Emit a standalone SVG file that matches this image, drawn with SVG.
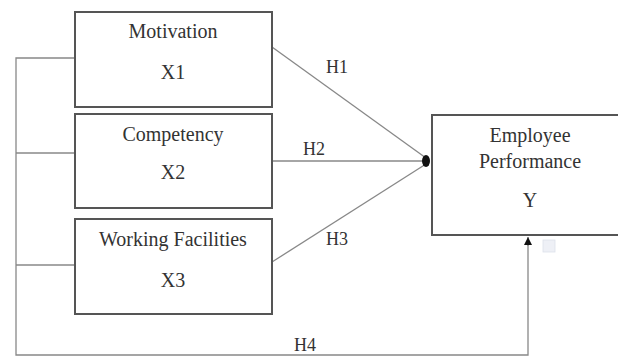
<svg xmlns="http://www.w3.org/2000/svg" width="618" height="358" viewBox="0 0 618 358">
<defs>
<style>
.box{fill:#fff;stroke:#555;stroke-width:2}
.ln{stroke:#888;stroke-width:1.3;fill:none}
text{font-family:"Liberation Serif","Times New Roman",serif;font-size:20px;fill:#333;text-anchor:middle}
.h{font-size:18px}
</style>
<marker id="arr" markerWidth="8" markerHeight="8" refX="8" refY="4" orient="auto" markerUnits="userSpaceOnUse" viewBox="0 0 8 8"><path d="M0,0 L8,4 L0,8 Z" fill="#111"/></marker>
</defs>
<rect width="618" height="358" fill="#fff"/>
<g id="connectors">
<path class="ln" d="M75,58 H16 V355 H528 V245"/>
<path class="ln" d="M75,153 H16"/>
<path class="ln" d="M75,265 H16"/>
<line class="ln" x1="528" y1="246" x2="528" y2="237" marker-end="url(#arr)"/>
<line class="ln" x1="272" y1="47" x2="426" y2="158"/>
<line class="ln" x1="272" y1="161" x2="426" y2="161"/>
<line class="ln" x1="272" y1="262" x2="426" y2="164"/>
<ellipse cx="426" cy="161" rx="4" ry="6" fill="#111"/>
<text class="h" x="337" y="73">H1</text>
<text class="h" x="314" y="155">H2</text>
<text class="h" x="337" y="245">H3</text>
<text class="h" x="305" y="351">H4</text>
</g>
<g id="x1">
<rect class="box" x="75" y="12" width="197" height="95"/>
<text x="173" y="38">Motivation</text>
<text x="173" y="79">X1</text>
</g>
<g id="x2">
<rect class="box" x="75" y="114" width="197" height="94"/>
<text x="173" y="141">Competency</text>
<text x="173" y="179">X2</text>
</g>
<g id="x3">
<rect class="box" x="75" y="219" width="197" height="95"/>
<text x="173" y="246">Working Facilities</text>
<text x="173" y="287">X3</text>
</g>
<g id="y">
<rect class="box" x="432" y="115" width="200" height="120"/>
<text x="530" y="142">Employee</text>
<text x="530" y="168">Performance</text>
<text x="530" y="207">Y</text>
</g>
<rect x="543" y="240" width="12" height="12" fill="#eef0f6" stroke="#dde0ea" stroke-width="0.8"/>
</svg>
